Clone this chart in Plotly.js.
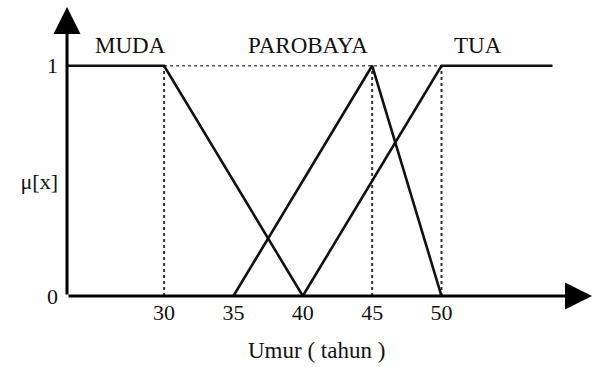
<!DOCTYPE html>
<html><head><meta charset="utf-8">
<script src="https://cdn.plot.ly/plotly-3.0.1.min.js"></script>
<style>html,body{margin:0;padding:0;background:#fff;}</style>
</head><body><div id="chart" style="width:593px;height:367px;"></div>
<script>
// Membership functions (Umur in years, membership 0..1)
const mudaX = [23, 30, 40];
const mudaY = [1, 1, 0];
const paroX = [35, 45, 50];
const paroY = [0, 1, 0];
const tuaX = [40, 50, 58];
const tuaY = [0, 1, 1];
const guideX = [30, 45, 50];        // dotted vertical guides
const guideTopX = [30, 50];         // dotted horizontal guide at mu = 1
const xTicks = [30, 35, 40, 45, 50];
const xTickText = ['30', '35', '40', '45', '50'];
const yTicks = [0, 0.5, 1];
const yTickText = ['0', 'μ[x]', '1'];
const setLabels = ['MUDA', 'PAROBAYA', 'TUA'];
const setLabelX = [27.6, 40.4, 52.6];
const xRange = [23, 60.85];
const yRange = [0, 1.255];

const FONT = '"Liberation Serif", "Times New Roman", serif';
const INK = '#111';

const traces = [];
// dotted guides
guideX.forEach(g => traces.push({x:[g,g], y:[0,1], mode:'lines', hoverinfo:'skip',
  line:{color:'#333', width:2, dash:'dot'}}));
traces.push({x:guideTopX, y:[1,1], mode:'lines', hoverinfo:'skip',
  line:{color:'#555', width:1.5, dash:'dot'}});
// membership lines
[[mudaX,mudaY],[paroX,paroY],[tuaX,tuaY]].forEach(([x,y]) => traces.push({x, y, mode:'lines',
  line:{color:INK, width:2.6}, hoverinfo:'skip'}));

const annotations = setLabels.map((t,i) => ({x:setLabelX[i], y:1.09, xref:'x', yref:'y',
  text:t, showarrow:false, font:{family:FONT, size:23, color:INK}}));
// axis arrows
annotations.push({x:xRange[1], y:0, ax:xRange[0], ay:0, xref:'x', yref:'y', axref:'x', ayref:'y',
  text:'', showarrow:true, arrowhead:2, arrowsize:1.8, arrowwidth:3, arrowcolor:'#000', standoff:0});
annotations.push({x:xRange[0], y:yRange[1], ax:xRange[0], ay:0, xref:'x', yref:'y', axref:'x', ayref:'y',
  text:'', showarrow:true, arrowhead:2, arrowsize:1.8, arrowwidth:3, arrowcolor:'#000', standoff:0});
// x-axis title
annotations.push({x:0.475, y:-0.19, xref:'paper', yref:'paper', yanchor:'middle',
  text:'Umur ( tahun )', showarrow:false, font:{family:FONT, size:23, color:INK}});

const layout = {
  width:593, height:367,
  margin:{l:67, r:1, t:7, b:71},
  paper_bgcolor:'#fff', plot_bgcolor:'#fff',
  showlegend:false,
  xaxis:{range:xRange, tickvals:xTicks, ticktext:xTickText, showgrid:false, zeroline:false,
    showline:false, ticks:'', ticklabelstandoff:1, tickfont:{family:FONT, size:22, color:INK}, fixedrange:true},
  yaxis:{range:yRange, tickvals:yTicks, ticktext:yTickText, showgrid:false, zeroline:false,
    showline:false, ticks:'', ticklabelstandoff:8, tickfont:{family:FONT, size:22, color:INK}, fixedrange:true},
  annotations
};
Plotly.newPlot('chart', traces, layout, {displayModeBar:false, staticPlot:true});
</script></body></html>
